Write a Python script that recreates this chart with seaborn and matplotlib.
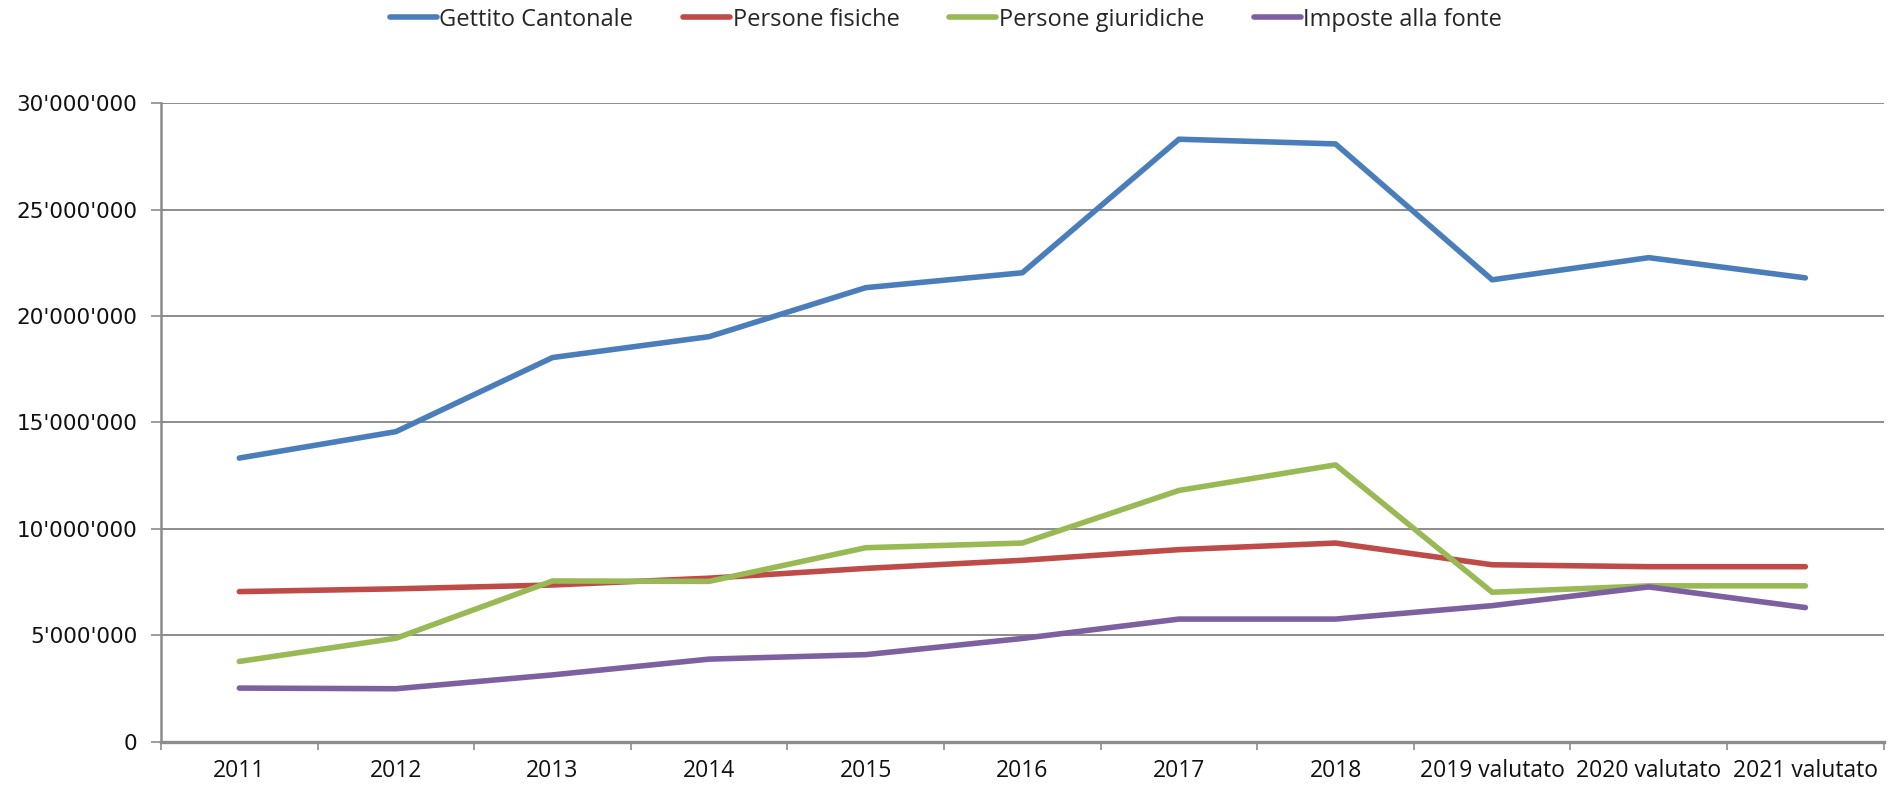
import numpy as np
import pandas as pd
import matplotlib
matplotlib.use("Agg")
import matplotlib.pyplot as plt
import seaborn as sns
from matplotlib.ticker import FuncFormatter
from matplotlib import font_manager

categories = ["2011", "2012", "2013", "2014", "2015", "2016", "2017", "2018",
              "2019 valutato", "2020 valutato", "2021 valutato"]
gettito_cantonale = [13.33e6, 14.57e6, 18.05e6, 19.03e6, 21.33e6, 22.03e6,
                     28.30e6, 28.08e6, 21.70e6, 22.74e6, 21.79e6]
persone_fisiche = [7.06e6, 7.19e6, 7.37e6, 7.69e6, 8.15e6, 8.53e6,
                   9.03e6, 9.34e6, 8.32e6, 8.23e6, 8.23e6]
persone_giuridiche = [3.78e6, 4.87e6, 7.56e6, 7.54e6, 9.12e6, 9.34e6,
                      11.81e6, 13.01e6, 7.03e6, 7.33e6, 7.33e6]
imposte_fonte = [2.53e6, 2.50e6, 3.15e6, 3.89e6, 4.10e6, 4.86e6,
                 5.77e6, 5.77e6, 6.40e6, 7.28e6, 6.31e6]
series_names = ["Gettito Cantonale", "Persone fisiche", "Persone giuridiche", "Imposte alla fonte"]
colors = ["#4A7EBB", "#BE4B48", "#98B954", "#7D60A0"]

df = pd.concat([
    pd.DataFrame({"anno": categories, "valore": vals, "serie": name})
    for name, vals in zip(series_names,
                          [gettito_cantonale, persone_fisiche, persone_giuridiche, imposte_fonte])
], ignore_index=True)
df["x"] = df["anno"].map({c: i for i, c in enumerate(categories)})

sns.set_theme(style="white")
avail = {f.name for f in font_manager.fontManager.ttflist}
narrow = "Liberation Sans Narrow" if "Liberation Sans Narrow" in avail else "Open Sans"
plt.rcParams["font.family"] = ["DejaVu Sans"]

fig = plt.figure(figsize=(18.92, 7.9), dpi=100)
ax = fig.add_axes([0.0851, 0.0608, 0.9105, 0.8088])

sns.lineplot(data=df, x="x", y="valore", hue="serie", hue_order=series_names,
             palette=colors, linewidth=4.0, ax=ax, legend=True, sort=False,
             solid_capstyle="round", solid_joinstyle="round")

ax.set_xlim(-0.5, len(categories) - 0.5)
ax.set_ylim(0, 30e6)
ax.set_yticks(np.arange(0, 30e6 + 1, 5e6))
ax.yaxis.set_major_formatter(FuncFormatter(lambda v, p: f"{int(v):,}".replace(",", "'")))
ax.yaxis.grid(True, color="#8C8C8C", linewidth=1.4)
ax.xaxis.grid(False)
ax.set_axisbelow(True)

ax.set_xticks(np.arange(-0.5, len(categories), 1))
ax.set_xticklabels([])
ax.set_xticks(np.arange(len(categories)), minor=True)
ax.set_xticklabels(categories, minor=True, fontsize=16.5, family=[narrow, "DejaVu Sans"])
ax.tick_params(axis="x", which="major", length=6, width=1.2, color="#8C8C8C", direction="out", bottom=True)
ax.tick_params(axis="x", which="minor", length=0, pad=12, labelcolor="#111111")
ax.tick_params(axis="y", which="major", length=7, width=1.2, color="#8C8C8C", direction="out",
               left=True, pad=10, labelsize=15.5, labelcolor="#111111")
ax.set_xlabel("")
ax.set_ylabel("")

for s in ["top", "right"]:
    ax.spines[s].set_visible(False)
ax.spines["left"].set_color("#8C8C8C")
ax.spines["left"].set_linewidth(1.8)
ax.spines["bottom"].set_color("#8C8C8C")
ax.spines["bottom"].set_linewidth(2.4)

handles, labels = ax.get_legend_handles_labels()
ax.legend_.remove()
for h in handles:
    h.set_solid_capstyle("round")
fig.legend(handles, labels, loc="center", bbox_to_anchor=(0.5, 0.975), ncol=4, frameon=False,
           prop={"family": [narrow, "DejaVu Sans"], "size": 17}, handlelength=2.0,
           handletextpad=0.1, columnspacing=2.1)

fig.savefig("out.png", dpi=100)
